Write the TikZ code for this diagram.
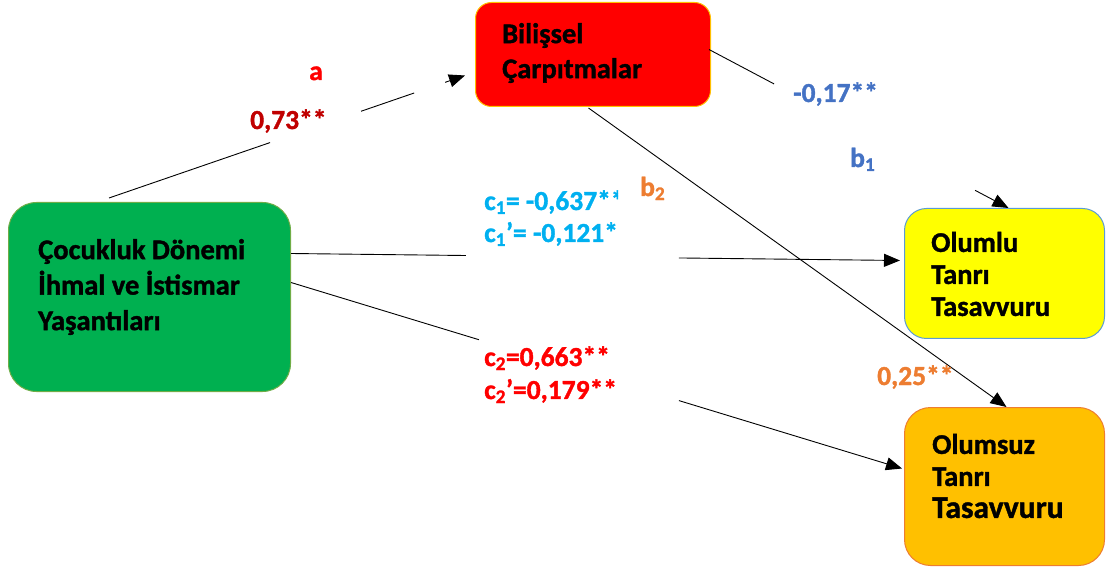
\documentclass[tikz,border=0pt]{standalone}
\usepackage{fontspec}
\setmainfont{Carlito}[BoldFeatures={FakeBold=1.3}]
\usetikzlibrary{arrows.meta}
\definecolor{grnfill}{HTML}{00B050}
\definecolor{grnline}{HTML}{70AD47}
\definecolor{redfill}{HTML}{FF0000}
\definecolor{redline}{HTML}{FFC000}
\definecolor{yelfill}{HTML}{FFFF00}
\definecolor{yelline}{HTML}{5B9BD5}
\definecolor{orgfill}{HTML}{FFC000}
\definecolor{orgline}{HTML}{ED7D31}
\definecolor{labred}{HTML}{FF0000}
\definecolor{labdred}{HTML}{C00000}
\definecolor{labblue}{HTML}{4472C4}
\definecolor{laborange}{HTML}{ED7D31}
\definecolor{labcyan}{HTML}{00B0F0}
\begin{document}
\begin{tikzpicture}[x=1pt,y=-1pt,
  box/.style={draw, line width=1pt, rounded corners=#1, anchor=north west, inner sep=0pt},
  box/.default=20pt,
  boxtext/.style={font=\fontsize{28.5}{35.5}\selectfont\bfseries, align=left, inner sep=0pt, anchor=west},
  lab/.style={font=\fontsize{27.5}{30}\selectfont\bfseries, inner sep=0pt, anchor=base west},
  conn/.style={line width=0.9pt, -{Triangle[length=16pt,width=13pt]}},
]
\useasboundingbox (0,0) rectangle (1106,569);

% boxes
\node[box=28pt, fill=grnfill, draw=grnline, minimum width=282pt, minimum height=189pt] (green) at (8,202) {};
\node[box=16pt, fill=redfill, draw=redline, minimum width=235pt, minimum height=104pt] (red) at (475,2) {};
\node[box=22pt, fill=yelfill, draw=yelline, minimum width=200pt, minimum height=130pt] (yellow) at (904,208) {};
\node[box=26pt, fill=orgfill, draw=orgline, minimum width=200pt, minimum height=158pt] (orange) at (904,407) {};

% box texts
\node[boxtext] (tgreen) at (38,287) {Çocukluk Dönemi\\İhmal ve İstismar\\Yaşantıları};
\node[boxtext, font=\fontsize{28.5}{35}\selectfont\bfseries] (tred) at (502,53) {Bilişsel\\Çarpıtmalar};
\node[boxtext, font=\fontsize{28.5}{32}\selectfont\bfseries] (tyellow) at (931,274) {Olumlu\\Tanrı\\Tasavvuru};
\node[boxtext, font=\fontsize{28.5}{32}\selectfont\bfseries] (torange) at (932,476) {Olumsuz\\Tanrı\\[0pt]{\fontsize{31.5}{34}\selectfont Tasavvuru}};

% connectors
\draw[conn, dash pattern=on 170.3pt off 96.3pt on 56.1pt off 32.8pt on 400pt]
  ([xshift=101pt,yshift=4pt]green.north west) -- ([xshift=-10pt,yshift=-21pt]red.west);
\draw[conn, dash pattern=on 73.6pt off 227.5pt on 400pt]
  ([xshift=-2pt,yshift=5pt]red.east) -- ([xshift=4pt]yellow.north);
\draw[conn]
  ([xshift=-4.5pt,yshift=-1pt]red.south) -- ([xshift=2pt]orange.north);
\draw[conn, dash pattern=on 175pt off 213pt on 400pt]
  ([yshift=43.5pt]green.east) -- ([xshift=-4pt,yshift=13pt]yellow.west);
\draw[conn, dash pattern=on 196.5pt off 209pt on 400pt]
  ([yshift=14.5pt]green.east) -- ([xshift=-2pt,yshift=18pt]orange.west);

% labels
\node[lab, text=labred] (la) at (309,80) {a};
\node[lab, text=labdred] (l073) at (250,129) {0,73**};
\node[lab, text=labblue] (l017) at (793,102) {-0,17**};
\node[lab, text=labblue] (lb1) at (850,167) {b\textsubscript{1}};
\node[lab, text=laborange] (lb2) at (640,196) {b\textsubscript{2}};
\begin{scope}
  \clip (470,170) rectangle (618,260);
  \node[lab, text=labcyan] (lc1) at (484,210) {c\textsubscript{1}= -0,637**};
  \node[lab, text=labcyan] (lc1p) at (484,242) {c\textsubscript{1}’= -0,121**};
\end{scope}
\node[lab, text=labred] (lc2) at (484,366) {c\textsubscript{2}=0,663**};
\node[lab, text=labred] (lc2p) at (484,399) {c\textsubscript{2}’=0,179**};
\node[lab, text=laborange] (l025) at (877,385) {0,25**};
\end{tikzpicture}
\end{document}
